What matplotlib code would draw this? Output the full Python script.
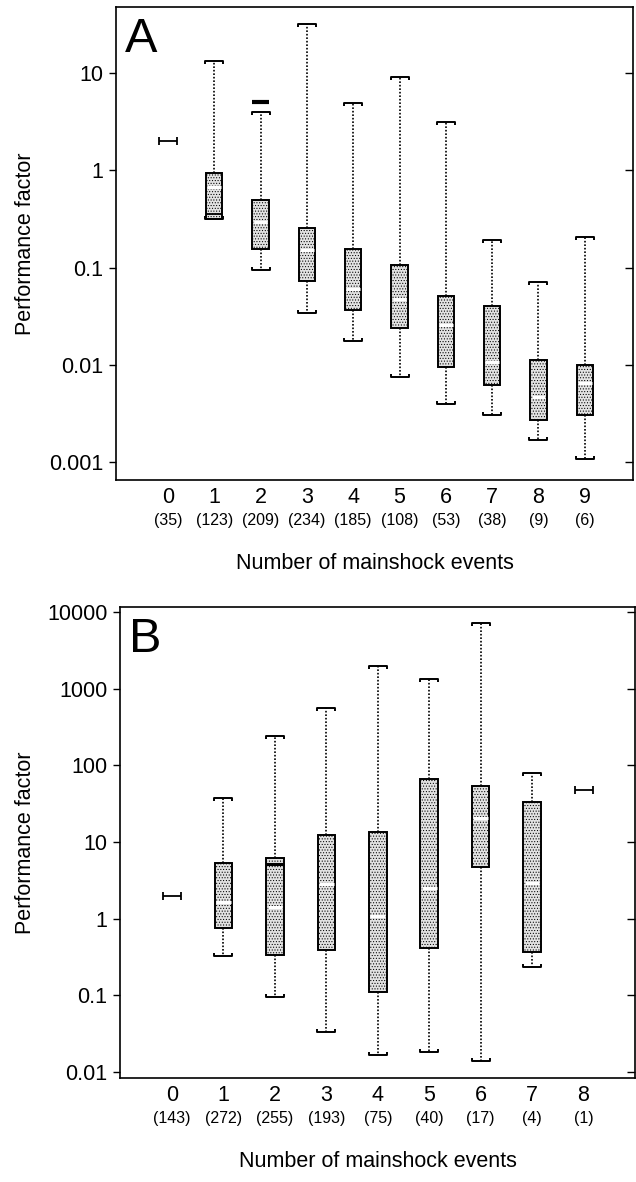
import numpy as np
import matplotlib
matplotlib.use("Agg")
import matplotlib.pyplot as plt
from matplotlib.path import Path
from matplotlib.ticker import FixedLocator, FixedFormatter

plt.rcParams['font.family'] = ['Liberation Sans', 'DejaVu Sans']
plt.rcParams['hatch.linewidth'] = 0.45

# panel A: performance factor by number of mainshock events
groups_a = [0, 1, 2, 3, 4, 5, 6, 7, 8, 9]
counts_a = [35, 123, 209, 234, 185, 108, 53, 38, 9, 6]
whishi_a = [2.0, 13.3, 4.0, 31.6, 4.9, 9.0, 3.13, 0.195, 0.072, 0.208]
q3_a = [2.0, 0.95, 0.50, 0.254, 0.155, 0.106, 0.051, 0.040, 0.0114, 0.0100]
med_a = [2.0, 0.68, 0.296, 0.152, 0.061, 0.048, 0.0257, 0.0108, 0.0047, 0.0066]
q1_a = [2.0, 0.32, 0.155, 0.073, 0.037, 0.024, 0.0096, 0.0062, 0.0027, 0.0031]
whislo_a = [2.0, 0.32, 0.094, 0.034, 0.0176, 0.0076, 0.0040, 0.0031, 0.0017, 0.00108]
marks_a = [(1, 0.355, 1.3), (2, 5.0, 3.0)]   # (group, value, linewidth)
yticks_a = [10, 1, 0.1, 0.01, 0.001]
yticklabels_a = ["10", "1", "0.1", "0.01", "0.001"]

# panel B
groups_b = [0, 1, 2, 3, 4, 5, 6, 7, 8]
counts_b = [143, 272, 255, 193, 75, 40, 17, 4, 1]
whishi_b = [2.0, 38, 243, 558, 1970, 1320, 7100, 79, 47.6]
q3_b = [2.0, 5.27, 6.25, 12.3, 13.6, 66, 54, 33.5, 47.6]
med_b = [2.0, 1.67, 1.43, 2.83, 1.08, 2.49, 20.4, 2.9, 47.6]
q1_b = [2.0, 0.75, 0.336, 0.39, 0.11, 0.41, 4.76, 0.371, 47.6]
whislo_b = [2.0, 0.327, 0.094, 0.0337, 0.0167, 0.0185, 0.0141, 0.232, 47.6]
marks_b = [(2, 5.1, 2.2)]
yticks_b = [10000, 1000, 100, 10, 1, 0.1, 0.01]
yticklabels_b = ["10000", "1000", "100", "10", "1", "0.1", "0.01"]

# cap shapes as markers
upper_cap = Path([(-1, -0.35), (-1, 0), (1, 0), (1, -0.35)])
lower_cap = Path([(-1, 0.35), (-1, 0), (1, 0), (1, 0.35)])
h_mark = Path([(-1, -0.4), (-1, 0.4), (-1, 0), (1, 0), (1, -0.4), (1, 0.4)],
              [Path.MOVETO, Path.LINETO, Path.MOVETO, Path.LINETO, Path.MOVETO, Path.LINETO])

FS = 15.5


def panel(ax, groups, counts, lo, q1, med, q3, hi, marks, yt, ytl, xlim, ylim, letter, w, height_px):
    stats = []
    pos = []
    for g, a, b, c, d, e in zip(groups, lo, q1, med, q3, hi):
        if b == d:
            # single value group drawn as |-|
            ax.plot(g, c, marker=h_mark, ms=13, mew=1.3, color='black', fillstyle='none', ls='none')
            continue
        stats.append(dict(whislo=a, q1=b, med=c, q3=d, whishi=e, fliers=[]))
        pos.append(g)
    ax.bxp(stats, positions=pos, widths=w, patch_artist=True, showcaps=False,
           boxprops=dict(facecolor='#e2e2e2', edgecolor='black', linewidth=1.4, hatch='......'),
           medianprops=dict(linewidth=0),
           whiskerprops=dict(color='black', linewidth=1.2, linestyle=(0, (1, 1.1))))
    for g, s in zip(pos, stats):
        ax.hlines(s['med'], g - w * 0.42, g + w * 0.42, color='white', lw=2.2, zorder=4)
        ax.plot(g, s['whishi'], marker=upper_cap, ms=12.5, mew=1.4, color='black', fillstyle='none', ls='none')
        ax.plot(g, s['whislo'], marker=lower_cap, ms=12.5, mew=1.4, color='black', fillstyle='none', ls='none')
    for g, v, lw in marks:
        ax.hlines(v, g - w / 2, g + w / 2, color='black', lw=lw, zorder=5)

    ax.set_yscale('log')
    ax.set_xlim(xlim)
    ax.set_ylim(ylim)
    ax.yaxis.set_major_locator(FixedLocator(yt))
    ax.yaxis.set_major_formatter(FixedFormatter(ytl))
    ax.yaxis.set_minor_locator(FixedLocator([]))
    ax.tick_params(axis='y', which='major', direction='out', length=5, width=1.0,
                   labelsize=FS, right=True, pad=4)
    ax.set_xticks(groups)
    ax.set_xticklabels([str(g) for g in groups])
    ax.tick_params(axis='x', length=0, labelsize=FS, pad=5)
    for g, n in zip(groups, counts):
        ax.annotate("(%d)" % n, xy=(g, 0), xycoords=('data', 'axes fraction'),
                    xytext=(0, -29.5), textcoords='offset points',
                    ha='center', va='center', fontsize=11.5)
    ax.set_xlabel("Number of mainshock events", fontsize=FS)
    ax.xaxis.set_label_coords(0.5, -73 / height_px)
    ax.xaxis.label.set_va('top')
    ax.set_ylabel("Performance factor", fontsize=FS)
    ax.text(0.017, 0.978, letter, transform=ax.transAxes, fontsize=35, ha='left', va='top')
    for sp in ax.spines.values():
        sp.set_linewidth(1.2)


fig = plt.figure(figsize=(6.36, 11.82), dpi=100)
ax_a = fig.add_axes([116 / 636, 1 - 480 / 1182, 517 / 636, 473 / 1182])
ax_b = fig.add_axes([120 / 636, 1 - 1078 / 1182, 515 / 636, 471 / 1182])

panel(ax_a, groups_a, counts_a, whislo_a, q1_a, med_a, q3_a, whishi_a, marks_a,
      yticks_a, yticklabels_a, (-1.12, 10.04), (10 ** -3.18, 10 ** 1.678), "A", 0.35, 473)
panel(ax_b, groups_b, counts_b, whislo_b, q1_b, med_b, q3_b, whishi_b, marks_b,
      yticks_b, yticklabels_b, (-1.01, 9.0), (10 ** -2.077, 10 ** 4.064), "B", 0.34, 471)

# right-side ticks point inward
for ax in (ax_a, ax_b):
    for t in ax.yaxis.get_major_ticks():
        t.tick2line.set_marker(matplotlib.lines.TICKLEFT)
        t.tick2line.set_markersize(6)
ax_a.yaxis.set_label_coords(-0.155, 0.5)
ax_b.yaxis.set_label_coords(-0.163, 0.5)

fig.savefig("out.png", dpi=100)
